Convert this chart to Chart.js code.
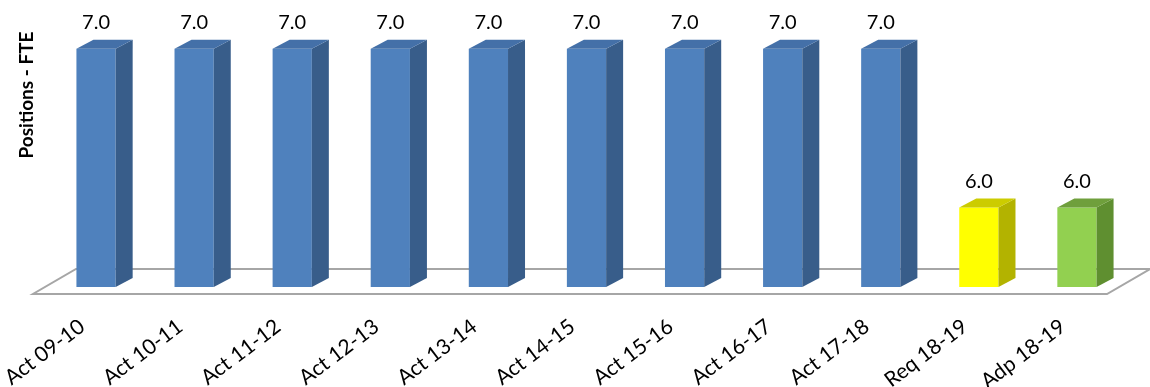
<!DOCTYPE html>
<html>
<head>
<meta charset="utf-8">
<script src="https://cdn.jsdelivr.net/npm/chart.js@4.4.1/dist/chart.umd.min.js"></script>
<style>
  html, body { margin: 0; padding: 0; background: #fff; }
  #fte { display: block; }
</style>
</head>
<body>
<canvas id="fte" width="1150" height="387"></canvas>
<script>
const categories = ['Act 09-10', 'Act 10-11', 'Act 11-12', 'Act 12-13', 'Act 13-14', 'Act 14-15',
  'Act 15-16', 'Act 16-17', 'Act 17-18', 'Req 18-19', 'Adp 18-19'];
const positions = [7.0, 7.0, 7.0, 7.0, 7.0, 7.0, 7.0, 7.0, 7.0, 6.0, 6.0];
const axisTitle = 'Positions - FTE';

// face colours per bar: front / side / top
const blue = ['#4f81bd', '#385d8a', '#4470a8'];
const yellow = ['#ffff00', '#b3b300', '#cccc00'];
const green = ['#92d050', '#5f8f30', '#6f9f3c'];
const faces = positions.map((v, i) => i < 9 ? blue : (i === 9 ? yellow : green));

const FONT = 'Lato, "Open Sans", sans-serif';
const DX = 17, DY = 9;

// floor slab under the bars, plus side/top faces and value labels
const bars3d = {
  id: 'bars3d',
  beforeDatasetsDraw(chart) {
    const { ctx, chartArea } = chart;
    const base = chart.scales.y.getPixelForValue(chart.scales.y.min);
    const fy = base + 7, by = base - 18;
    const fl = chartArea.left - 14, fr = chartArea.right - 19;
    ctx.save();
    ctx.beginPath();
    ctx.moveTo(fl, fy);
    ctx.lineTo(fr, fy);
    ctx.lineTo(fr + 43, by);
    ctx.lineTo(fl + 43, by);
    ctx.closePath();
    ctx.fillStyle = '#fff';
    ctx.fill();
    ctx.strokeStyle = '#a6a6a6';
    ctx.lineWidth = 2;
    ctx.stroke();
    ctx.restore();
  },
  afterDatasetsDraw(chart) {
    const { ctx } = chart;
    const yScale = chart.scales.y;
    const base = yScale.getPixelForValue(yScale.min);
    const meta = chart.getDatasetMeta(0);
    ctx.save();
    meta.data.forEach((bar, i) => {
      const { x, y, width } = bar.getProps(['x', 'y', 'width'], true);
      const l = x - width / 2, r = x + width / 2;
      ctx.fillStyle = faces[i][1];
      ctx.beginPath();
      ctx.moveTo(r, y);
      ctx.lineTo(r + DX, y - DY);
      ctx.lineTo(r + DX, base - DY);
      ctx.lineTo(r, base);
      ctx.closePath();
      ctx.fill();
      ctx.fillStyle = faces[i][2];
      ctx.beginPath();
      ctx.moveTo(l, y);
      ctx.lineTo(l + DX, y - DY);
      ctx.lineTo(r + DX, y - DY);
      ctx.lineTo(r, y);
      ctx.closePath();
      ctx.fill();

      ctx.fillStyle = '#000';
      ctx.font = '20px ' + FONT;
      ctx.textAlign = 'center';
      ctx.textBaseline = 'middle';
      ctx.fillText(positions[i].toFixed(1), x, y - 26);
    });

    ctx.translate(27, 95);
    ctx.rotate(-Math.PI / 2);
    ctx.font = 'bold 19px ' + FONT;
    ctx.fillText(axisTitle, 0, 0);
    ctx.restore();
  }
};

new Chart(document.getElementById('fte'), {
  type: 'bar',
  data: {
    labels: categories,
    datasets: [{
      label: axisTitle,
      data: positions,
      backgroundColor: faces.map(f => f[0]),
      borderWidth: 0,
      barPercentage: 0.4,
      categoryPercentage: 1.0
    }]
  },
  options: {
    responsive: false,
    animation: false,
    devicePixelRatio: 1,
    layout: { padding: { left: 47, right: 24, top: 17, bottom: 0 } },
    plugins: { legend: { display: false }, tooltip: { enabled: false } },
    scales: {
      y: { display: false, min: 5.5, max: 7.2 },
      x: {
        grid: { display: false },
        border: { display: false },
        afterFit(scale) { scale.height = 100; },
        ticks: {
          color: '#000',
          font: { size: 21, family: FONT },
          minRotation: 37,
          maxRotation: 37,
          padding: 19,
          labelOffset: -14
        }
      }
    }
  },
  plugins: [bars3d]
});
</script>
</body>
</html>
